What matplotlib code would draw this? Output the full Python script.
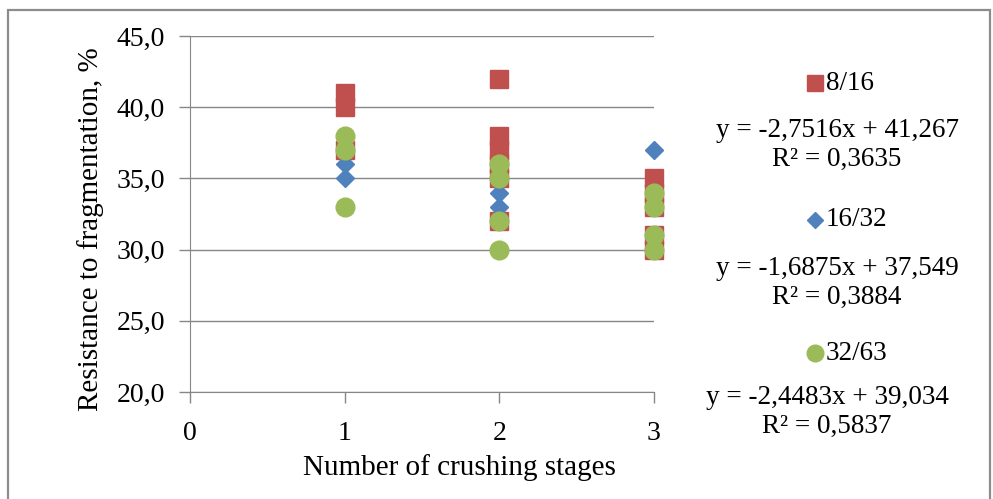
import numpy as np
import matplotlib.pyplot as plt
from matplotlib.lines import Line2D
from matplotlib.patches import Rectangle
from matplotlib.ticker import FuncFormatter

plt.rcParams['font.family'] = ['Liberation Serif', 'DejaVu Serif']

# values (stage, resistance %)
red_x = [1, 1, 1, 2, 2, 2, 2, 2, 2, 3, 3, 3, 3, 3]
red_y = [41, 40, 37, 42, 38, 37, 36, 35, 32, 35, 34, 33, 31, 30]
blue_x = [1, 1, 2, 2, 3]
blue_y = [36, 35, 34, 33, 37]
green_x = [1, 1, 1, 2, 2, 2, 2, 3, 3, 3, 3]
green_y = [38, 37, 33, 36, 35, 32, 30, 34, 33, 31, 30]

labels = ['8/16', '16/32', '32/63']
equations = ['y = -2,7516x + 41,267\nR² = 0,3635',
             'y = -1,6875x + 37,549\nR² = 0,3884',
             'y = -2,4483x + 39,034\nR² = 0,5837']

c_red = '#C0504D'
c_blue = '#4F81BD'
c_green = '#9BBB59'

W, H = 993, 499
fig = plt.figure(figsize=(W / 100, H / 100), dpi=100)
ax = fig.add_axes([190 / W, 1 - 392 / H, 464 / W, 356 / H])

ax.plot(red_x, red_y, 's', color=c_red, ms=13.5, mec=c_red, ls='none', clip_on=False)
ax.plot(blue_x, blue_y, 'D', color=c_blue, ms=9.5, mec=c_blue, ls='none', clip_on=False)
ax.plot(green_x, green_y, 'o', color=c_green, ms=13.5, mec=c_green, ls='none', clip_on=False)

ax.set_xlim(0, 3)
ax.set_ylim(20, 45)
ax.set_xticks([0, 1, 2, 3])
ax.set_yticks([20, 25, 30, 35, 40, 45])
ax.yaxis.set_major_formatter(FuncFormatter(lambda v, p: f'{v:.1f}'.replace('.', ',')))
ax.grid(axis='y', color='#868686', lw=1)
ax.set_axisbelow(True)
for s in ['top', 'right']:
    ax.spines[s].set_visible(False)
for s in ['left', 'bottom']:
    ax.spines[s].set_color('#868686')
ax.tick_params(axis='both', colors='#868686', labelcolor='black', labelsize=20, length=8, width=1)
ax.tick_params(axis='x', pad=13)
ax.tick_params(axis='y', pad=10)
ax.set_xlabel('Number of crushing stages', fontsize=21)
ax.set_ylabel('Resistance to fragmentation, %', fontsize=21)
ax.xaxis.set_label_coords(0.58, -0.174)
ax.yaxis.set_label_coords(-0.186, 0.457)

# legend with trendline equations on the right
markers = [('s', c_red, 12), ('D', c_blue, 8), ('o', c_green, 12)]
leg_y = [83, 220, 353]
eq_y = [145, 283, 412]
eq_x = [837, 837, 827]
for (m, c, ms), lab, ly, eqy, eqx, eq in zip(markers, labels, leg_y, eq_y, eq_x, equations):
    fig.add_artist(Line2D([815 / W], [1 - ly / H], marker=m, color=c, ms=ms, ls='none'))
    fig.text(826 / W, 1 - ly / H, lab, fontsize=19.5, va='center', ha='left')
    fig.text(eqx / W, 1 - eqy / H, eq, fontsize=19.5, va='center', ha='center', linespacing=1.2)

fig.add_artist(Rectangle((8 / W, -0.02), 982 / W, 1.02 - 10 / H, transform=fig.transFigure,
                         fill=False, ec='#8c8c8c', lw=1.6))

fig.savefig('out.png', dpi=100)
